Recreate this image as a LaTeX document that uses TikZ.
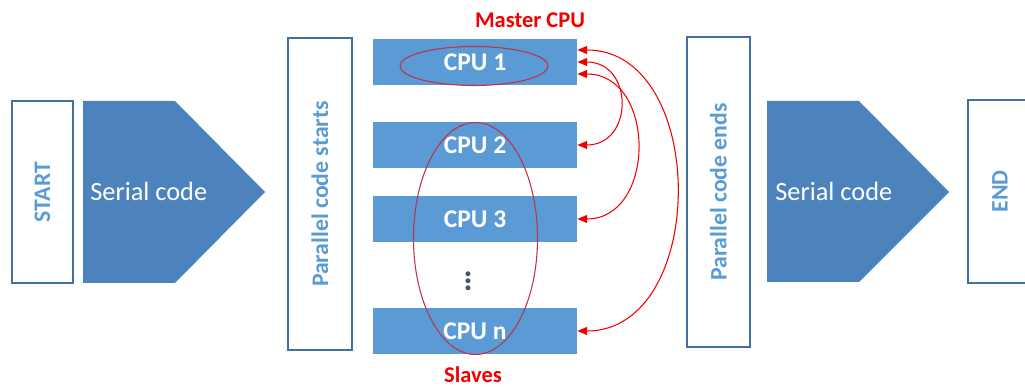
\documentclass[tikz,border=0pt]{standalone}
\usepackage{fontspec}
\setmainfont{Carlito}
\usepackage{tikz}
\usetikzlibrary{arrows.meta, positioning, shapes.geometric, calc}
\definecolor{cpublue}{HTML}{5B9BD5}
\definecolor{serblue}{HTML}{4C83BC}
\definecolor{frameblue}{HTML}{41719C}
\definecolor{txtblue}{HTML}{5B9BD5}
\definecolor{mred}{HTML}{F00000}
\definecolor{ringred}{HTML}{C0304A}
\definecolor{dotgray}{HTML}{44546A}
\tikzset{
  framebox/.style={draw=frameblue, line width=1.4pt, fill=white, rotate=90,
                   text=txtblue, font=\fontsize{13.5}{16}\selectfont\bfseries, inner sep=0pt},
  cpubox/.style={fill=cpublue, text=white, minimum width=204*0.02cm,
                 minimum height=46*0.02cm, inner sep=0pt,
                 font=\fontsize{14.5}{17}\selectfont\bfseries},
  sertext/.style={text=white, anchor=west, inner sep=0pt,
                  font=\fontsize{15}{18}\selectfont},
  ring/.style={draw=ringred, line width=0.6pt, ellipse, inner sep=0pt},
  redlabel/.style={text=mred, font=\fontsize{12.8}{15}\selectfont\bfseries},
  redarr/.style={{Triangle[length=5.5pt,width=4.5pt]}-{Triangle[length=5.5pt,width=4.5pt]},
                 mred, line width=0.6pt},
}

\begin{document}
\begin{tikzpicture}[x=0.02cm, y=0.02cm]
  \useasboundingbox (0,0) rectangle (1025,-388);

  % START
  \node[framebox, minimum width=182*0.02cm, minimum height=61*0.02cm]
    (start) at (42.5,-192) {START};

  % Serial code (before)
  \fill[serblue] (83,-101) -- (175,-101) -- (265,-192) -- (175,-283) -- (83,-283) -- cycle;
  \node[sertext] (ser1) at (90,-191) {Serial code};

  % Parallel code starts
  \node[framebox, minimum width=312*0.02cm, minimum height=64*0.02cm]
    (pstart) at (320,-194) {Parallel code starts};

  % CPUs
  \node[cpubox] (cpu1) at (475,-62) {CPU 1};
  \node[cpubox] (cpu2) at (475,-145) {CPU 2};
  \node[cpubox] (cpu3) at (475,-219) {CPU 3};
  \node[text=dotgray, font=\fontsize{19}{21}\selectfont\bfseries, inner sep=0pt]
    (dots) at (468,-276) {$\vdots$};
  \node[cpubox] (cpun) at (475,-331) {CPU n};

  % Master / slaves rings
  \node[ring, minimum width=148*0.02cm, minimum height=39*0.02cm] (master) at (474,-66) {};
  \node[ring, minimum width=124*0.02cm, minimum height=232*0.02cm] (slaves) at (475.5,-238.5) {};
  \node[redlabel] (mlabel) at (530,-20) {Master CPU};
  \node[redlabel] (slabel) at (473,-375) {Slaves};

  % Master <-> slaves
  \draw[redarr] ($(cpu1.east)+(0,12)$) to[out=0, in=0, looseness=1.2] (cpun.east);
  \draw[redarr] (cpu1.east) to[out=0, in=0, looseness=1.75] (cpu2.east);
  \draw[redarr] ($(cpu1.east)+(0,-12)$) to[out=0, in=0, looseness=1.4] (cpu3.east);

  % Parallel code ends
  \node[framebox, minimum width=310*0.02cm, minimum height=63*0.02cm]
    (pend) at (718.5,-192) {Parallel code ends};

  % Serial code (after)
  \fill[serblue] (767,-101) -- (859,-101) -- (949,-192) -- (859,-282) -- (767,-282) -- cycle;
  \node[sertext] (ser2) at (775,-191) {Serial code};

  % END
  \node[framebox, minimum width=183*0.02cm, minimum height=64*0.02cm]
    (finish) at (1000,-191.5) {END};
\end{tikzpicture}
\end{document}
